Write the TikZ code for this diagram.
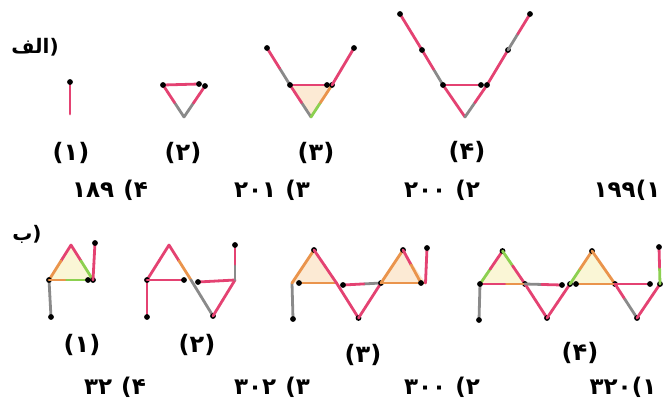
\documentclass[tikz,border=0pt]{standalone}
\usepackage{fontspec}
\usetikzlibrary{calc}
\newfontfamily\arabicfont[Script=Arabic]{DejaVu Sans}
\TeXXeTstate=1
\definecolor{mpink}{RGB}{228,66,114}
\definecolor{mgray}{RGB}{138,138,138}
\definecolor{morange}{RGB}{234,148,76}
\definecolor{mgreen}{RGB}{140,208,80}
\definecolor{paleY}{RGB}{250,246,214}
\definecolor{paleO}{RGB}{252,234,212}
\newcommand\mstick[4]{%
  \draw[stick,draw=#1] (#3) -- ($(#3)!0.45!(#4)$);
  \draw[stick,draw=#2] ($(#3)!0.45!(#4)$) -- (#4);
  \fill[head] (#4) circle (2.9pt);}
\newcommand\pstick[4]{%
  \draw[stick,draw=#1] (#3) -- ($(#3)!0.45!(#4)$);
  \draw[stick,draw=#2] ($(#3)!0.45!(#4)$) -- (#4);}
\newcommand\gap{\hspace{9pt}}
\tikzset{
  stick/.style={line width=2.8pt,line cap=round},
  head/.style={fill=black},
  lbl/.style={inner sep=0pt,font=\arabicfont\bfseries\fontsize{24}{28}\selectfont},
  ans/.style={inner sep=0pt,font=\arabicfont\bfseries\fontsize{23}{26}\selectfont},
  sec/.style={inner sep=0pt,font=\arabicfont\bfseries\fontsize{20}{23}\selectfont},
}
\begin{document}
\begin{tikzpicture}[x=1pt,y=-1pt]
\useasboundingbox (0,0) rectangle (671,408);
% ---------- part alef ----------
\node[sec] (secA) at (35,47) {\beginR(الف\endR};
% fig 1
\coordinate (a1b) at (70,114); \coordinate (a1t) at (70,82);
\mstick{mpink}{mpink}{a1b}{a1t}
% fig 2
\coordinate (a2l) at (163,85); \coordinate (a2r) at (205,86);
\coordinate (a2b) at (184,117); \coordinate (a2h) at (199,84);
\mstick{mpink}{mpink}{a2l}{a2h}
\mstick{mgray}{mpink}{a2b}{a2l}
\mstick{mgray}{mpink}{a2b}{a2r}
% fig 3
\coordinate (a3l) at (290,85); \coordinate (a3r) at (332,85);
\coordinate (a3b) at (311,117); \coordinate (a3tl) at (267,48);
\coordinate (a3tr) at (354,48); \coordinate (a3h) at (327,85);
\fill[paleO] (a3l) -- (a3r) -- (a3b) -- cycle;
\mstick{mgray}{mpink}{a3l}{a3tl}
\mstick{mpink}{mpink}{a3l}{a3h}
\mstick{mgray}{mpink}{a3b}{a3l}
\mstick{mgreen}{morange}{a3b}{a3r}
\mstick{mpink}{mpink}{a3r}{a3tr}
% fig 4
\coordinate (a4l) at (443,85); \coordinate (a4r) at (487,85);
\coordinate (a4b) at (465,117); \coordinate (a4ml) at (422,50);
\coordinate (a4mr) at (508,50); \coordinate (a4tl) at (400,14);
\coordinate (a4tr) at (530,14); \coordinate (a4h) at (481,85);
\mstick{mpink}{mpink}{a4ml}{a4tl}
\mstick{mgray}{mpink}{a4l}{a4ml}
\pstick{mpink}{mpink}{a4b}{a4l}
\pstick{mgray}{mpink}{a4b}{a4r}
\mstick{mpink}{mpink}{a4l}{a4h}
\mstick{mpink}{mpink}{a4r}{a4mr}
\mstick{mgray}{mpink}{a4mr}{a4tr}
\fill[head] (a4l) circle (2.9pt);
\fill[head] (a4r) circle (2.9pt);
% labels
\node[lbl] (la1) at (71,153) {\beginR(۱)\endR};
\node[lbl] (la2) at (183,153) {\beginR(۲)\endR};
\node[lbl] (la3) at (316,153) {\beginR(۳)\endR};
\node[lbl] (la4) at (467,152) {\beginR(۴)\endR};
\node[ans] (oa4) at (110,190) {\beginR۴)\gap۱۸۹\endR};
\node[ans] (oa3) at (272,190) {\beginR۳)\gap۲۰۱\endR};
\node[ans] (oa2) at (442,190) {\beginR۲)\gap۲۰۰\endR};
\node[ans] (oa1) at (627,190) {\beginR۱)۱۹۹\endR};
% ---------- part be ----------
\node[sec] (secB) at (27,234) {\beginR(ب\endR};
% fig 1
\coordinate (b1p0) at (49,280); \coordinate (b1ap) at (71,245);
\coordinate (b1p1) at (93,280); \coordinate (b1lv) at (51,317);
\coordinate (b1rv) at (95,243); \coordinate (b1h) at (88,280);
\fill[paleY] (b1p0) -- (b1ap) -- (b1p1) -- cycle;
\mstick{mgray}{mgray}{b1p0}{b1lv}
\mstick{mpink}{morange}{b1ap}{b1p0}
\mstick{mpink}{mgreen}{b1ap}{b1p1}
\mstick{morange}{mgreen}{b1p0}{b1h}
\mstick{mpink}{mpink}{b1p1}{b1rv}
% fig 2
\coordinate (b2p0) at (147,280); \coordinate (b2ap1) at (169,245);
\coordinate (b2p1) at (191,280); \coordinate (b2bt1) at (213,316);
\coordinate (b2p2) at (235,280); \coordinate (b2lv) at (147,317);
\coordinate (b2rv) at (235,245); \coordinate (b2h1) at (184,280);
\coordinate (b2h2) at (198,282);
\mstick{mpink}{mpink}{b2p0}{b2lv}
\mstick{mpink}{mpink}{b2ap1}{b2p0}
\pstick{mpink}{morange}{b2ap1}{b2p1}
\mstick{mpink}{mpink}{b2p0}{b2h1}
\mstick{mpink}{mpink}{b2p2}{b2h2}
\mstick{mgray}{mgray}{b2p1}{b2bt1}
\pstick{mpink}{mpink}{b2bt1}{b2p2}
\mstick{mgray}{mpink}{b2p2}{b2rv}
% fig 3
\coordinate (b3p0) at (292,283); \coordinate (b3ap1) at (314,250);
\coordinate (b3p1) at (336.5,283); \coordinate (b3bt1) at (358.5,318);
\coordinate (b3p2) at (381,283); \coordinate (b3ap2) at (403,250);
\coordinate (b3p3) at (425.5,283); \coordinate (b3lv) at (293,319);
\coordinate (b3rv) at (427,248); \coordinate (b3h1) at (299,283);
\coordinate (b3h2) at (343,285); \coordinate (b3h3) at (421,283);
\fill[paleO] (b3p0) -- (b3ap1) -- (b3p1) -- cycle;
\fill[paleO] (b3p2) -- (b3ap2) -- (b3p3) -- cycle;
\mstick{mgray}{mgray}{b3p0}{b3lv}
\mstick{morange}{morange}{b3p0}{b3ap1}
\mstick{morange}{morange}{b3p1}{b3h1}
\pstick{mpink}{mpink}{b3ap1}{b3p1}
\mstick{mpink}{mpink}{b3p1}{b3bt1}
\mstick{mgray}{mpink}{b3p2}{b3h2}
\mstick{mpink}{mpink}{b3bt1}{b3p2}
\mstick{morange}{morange}{b3p2}{b3ap2}
\pstick{morange}{morange}{b3p2}{b3p3}
\mstick{mpink}{morange}{b3ap2}{b3h3}
\mstick{mpink}{mpink}{b3p3}{b3rv}
% fig 4
\coordinate (b4p0) at (480,284); \coordinate (b4ap1) at (502.5,251);
\coordinate (b4p1) at (525,284); \coordinate (b4bt1) at (547,318);
\coordinate (b4p2) at (570,284); \coordinate (b4ap2) at (592,251);
\coordinate (b4p3) at (615,284); \coordinate (b4bt2) at (637,318);
\coordinate (b4p4) at (660,284); \coordinate (b4lv) at (479,320);
\coordinate (b4rv) at (659,247); \coordinate (b4h1) at (562,285);
\coordinate (b4h2) at (576,284); \coordinate (b4h3) at (650,284);
\fill[paleY] (b4p0) -- (b4ap1) -- (b4p1) -- cycle;
\fill[paleY] (b4p2) -- (b4ap2) -- (b4p3) -- cycle;
\mstick{mgray}{mgray}{b4p0}{b4lv}
\mstick{mgreen}{mpink}{b4p0}{b4ap1}
\mstick{mgreen}{mpink}{b4ap1}{b4p1}
\mstick{morange}{mpink}{b4p1}{b4p0}
\mstick{mpink}{mpink}{b4p1}{b4bt1}
\mstick{mgray}{mpink}{b4p1}{b4h1}
\mstick{mpink}{mpink}{b4bt1}{b4p2}
\mstick{mgreen}{morange}{b4p2}{b4ap2}
\mstick{morange}{morange}{b4ap2}{b4p3}
\mstick{morange}{morange}{b4p3}{b4h2}
\mstick{mpink}{mgray}{b4p3}{b4bt2}
\mstick{mpink}{mpink}{b4p3}{b4h3}
\mstick{mpink}{mpink}{b4bt2}{b4p4}
\mstick{mgreen}{mpink}{b4p4}{b4rv}
% labels
\node[lbl] (lb1) at (82,345) {\beginR(۱)\endR};
\node[lbl] (lb2) at (197,345) {\beginR(۲)\endR};
\node[lbl] (lb3) at (363,355) {\beginR(۳)\endR};
\node[lbl] (lb4) at (580,353) {\beginR(۴)\endR};
\node[ans] (ob4) at (115,387) {\beginR۴)\gap۳۲\endR};
\node[ans] (ob3) at (272,387) {\beginR۳)\gap۳۰۲\endR};
\node[ans] (ob2) at (442,387) {\beginR۲)\gap۳۰۰\endR};
\node[ans] (ob1) at (623,387) {\beginR۱)۳۲۰\endR};
\end{tikzpicture}
\end{document}
